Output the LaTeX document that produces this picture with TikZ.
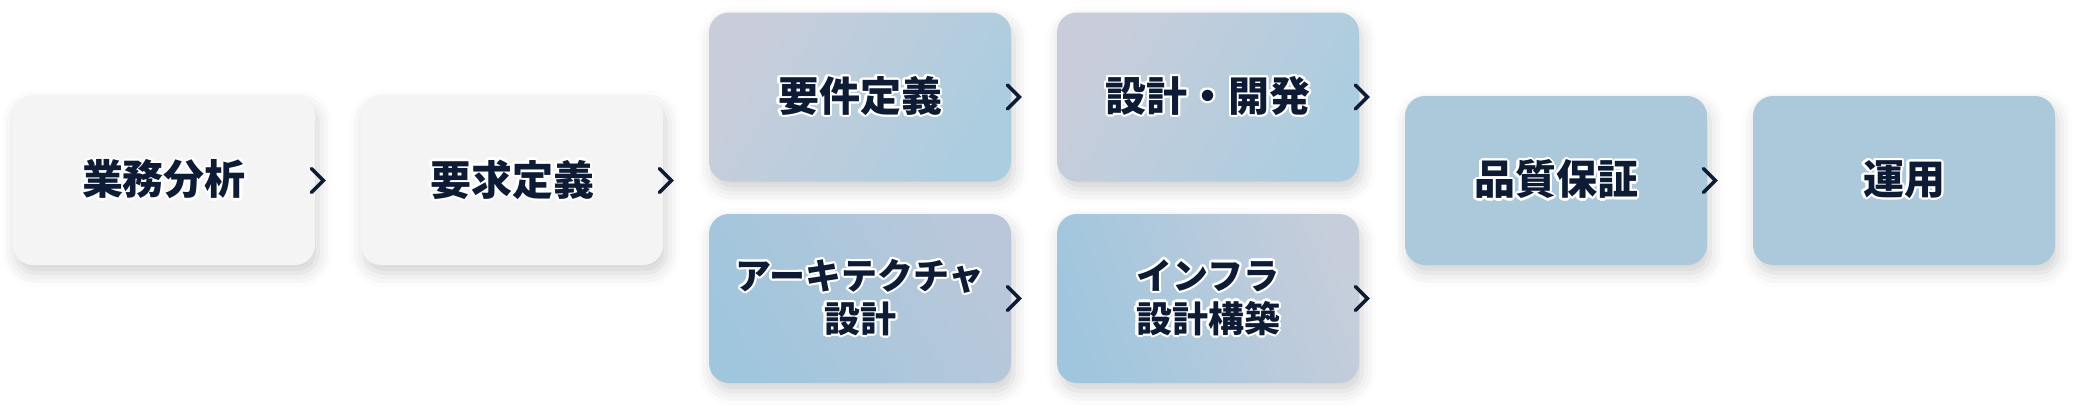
\documentclass[tikz,border=0pt]{standalone}
\usepackage{fontspec}
\setmainfont{Noto Sans CJK JP}
\usepackage{contour}
\usepackage{tikz}
\usetikzlibrary{positioning, shadows.blur}
\definecolor{navytext}{RGB}{13,27,53}
\definecolor{greybox}{RGB}{244,244,245}
\definecolor{bluebox}{RGB}{171,201,219}
\definecolor{lavgrey}{RGB}{201,205,219}
\definecolor{paleblue}{RGB}{171,205,223}
\definecolor{deepblue}{RGB}{160,198,221}
\definecolor{slategrey}{RGB}{186,199,218}
\definecolor{misty}{RGB}{198,205,219}
\contourlength{1.1pt}
\tikzset{
  stepbox/.style={rounded corners=10pt, minimum width=151pt, minimum height=84.5pt, inner sep=0pt, align=center, text=navytext,
    font=\bfseries\fontsize{20.5pt}{24pt}\selectfont,
    blur shadow={shadow xshift=1.5pt, shadow yshift=-4pt, shadow blur radius=7pt, shadow opacity=18}},
  twoline/.style={font=\bfseries\fontsize{18pt}{21.5pt}\selectfont},
  chev/.style={navytext, line width=1.75pt, line cap=round},
}

\begin{document}
\begin{tikzpicture}[x=0.5pt, y=-0.5pt]
	\useasboundingbox (0,0) rectangle (2084,412);

	% main row
	\node[stepbox, fill=greybox] (ana) at (164,180.5) {\contour{white}{業務分析}};
	\node[stepbox, fill=greybox] (reqs) at (512,180.5) {\contour{white}{要求定義}};

	% upper and lower branches
	\node[stepbox, left color=lavgrey, right color=paleblue, shading angle=60] (spec) at (860,97) {\contour{white}{要件定義}};
	\node[stepbox, left color=lavgrey, right color=paleblue, shading angle=60] (dev) at (1208,97) {\contour{white}{設計・開発}};
	\node[stepbox, twoline, left color=deepblue, right color=slategrey, shading angle=120] (arch) at (860,298.5) {\contour{white}{アーキテクチャ}\\\contour{white}{設計}};
	\node[stepbox, twoline, left color=deepblue, right color=misty, shading angle=110] (infra) at (1208,298.5) {\contour{white}{インフラ}\\\contour{white}{設計構築}};

	\node[stepbox, fill=bluebox] (qa) at (1556,180.5) {\contour{white}{品質保証}};
	\node[stepbox, fill=bluebox] (ops) at (1904,180.5) {\contour{white}{運用}};

	% chevrons
	\foreach \n in {ana, reqs, spec, dev, arch, infra, qa}
		\draw[chev] ([shift={(-2pt,6pt)}]\n.east) -- ([xshift=4pt]\n.east) -- ([shift={(-2pt,-6pt)}]\n.east);
\end{tikzpicture}
\end{document}
